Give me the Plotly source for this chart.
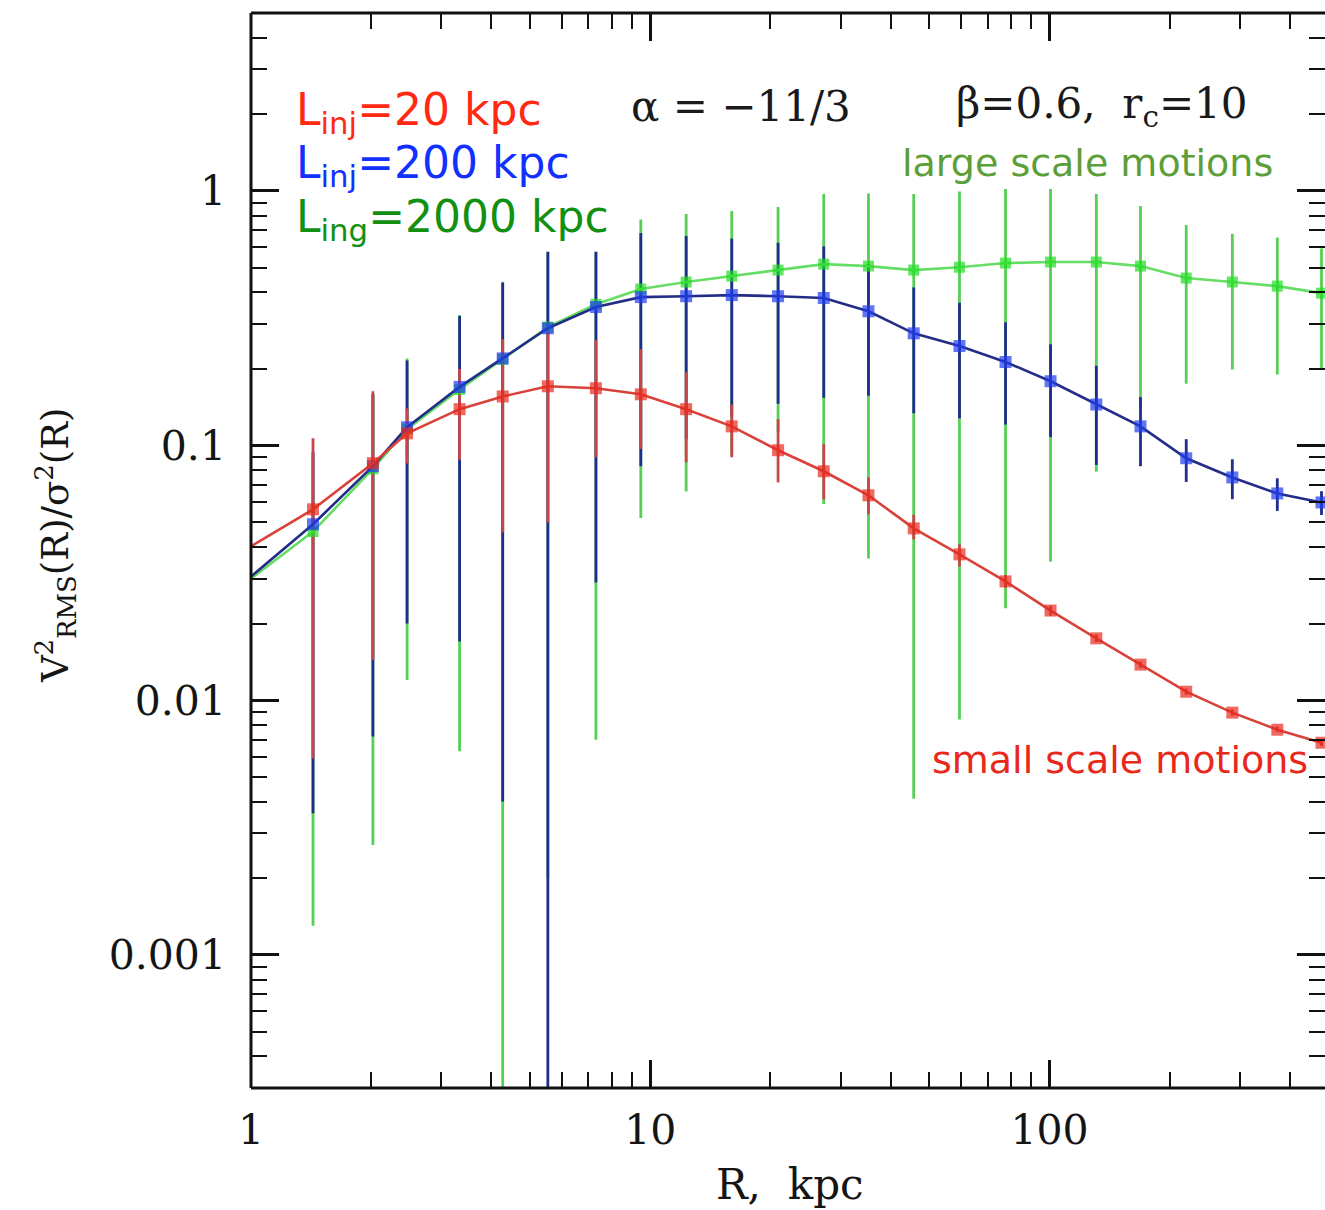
import numpy as np
import plotly.graph_objects as go

# Projected radius of each annulus, kpc
R_kpc = [1.0, 1.43, 2.02, 2.46, 3.33, 4.27, 5.54, 7.31, 9.47, 12.3, 16.0, 20.9,
         27.2, 35.2, 45.7, 59.5, 77.6, 100.6, 131.0, 169.0, 220.0, 287.0, 372.0, 480.0]

# L_inj = 20 kpc : mean V^2_RMS / sigma^2 and the upper / lower ends of its scatter
red_mean = [0.0402, 0.0562, 0.0853, 0.1117, 0.139, 0.156, 0.171, 0.168, 0.159, 0.139, 0.119, 0.0959,
            0.0793, 0.0638, 0.0473, 0.0374, 0.0293, 0.0225, 0.0175, 0.0138, 0.0108, 0.00894, 0.00766, 0.00681]
red_hi = [0.0402, 0.1068, 0.1635, 0.140, 0.200, 0.262, 0.287, 0.260, 0.239, 0.194, 0.145, 0.127,
          0.1012, 0.075, 0.0535, 0.041, 0.031, 0.0235, 0.0181, 0.0142, 0.0111, 0.0092, 0.0079, 0.0070]
red_lo = [0.0402, 0.0059, 0.0144, 0.085, 0.088, 0.0456, 0.050, 0.090, 0.097, 0.086, 0.090, 0.0717,
          0.0615, 0.0537, 0.0428, 0.0335, 0.0277, 0.0215, 0.0169, 0.0134, 0.0105, 0.0087, 0.0075, 0.0066]

# L_inj = 200 kpc
blue_mean = [0.0306, 0.0491, 0.083, 0.118, 0.170, 0.220, 0.289, 0.350, 0.383, 0.386, 0.390, 0.386,
             0.380, 0.337, 0.276, 0.246, 0.213, 0.179, 0.145, 0.119, 0.0892, 0.0750, 0.0649, 0.0598]
blue_hi = [0.0306, 0.0946, 0.159, 0.216, 0.323, 0.436, 0.581, 0.671, 0.683, 0.666, 0.650, 0.626,
           0.606, 0.517, 0.418, 0.364, 0.305, 0.250, 0.206, 0.155, 0.106, 0.0884, 0.0744, 0.0662]
blue_lo = [0.0306, 0.0036, 0.0072, 0.020, 0.017, 0.004, 0.0, 0.029, 0.083, 0.106, 0.130, 0.146,
           0.154, 0.157, 0.134, 0.128, 0.121, 0.108, 0.084, 0.083, 0.072, 0.0616, 0.0554, 0.0534]

# L_inj = 2000 kpc
green_mean = [0.030, 0.046, 0.081, 0.116, 0.166, 0.218, 0.292, 0.359, 0.412, 0.439, 0.463, 0.489,
              0.516, 0.507, 0.489, 0.502, 0.521, 0.526, 0.526, 0.507, 0.455, 0.439, 0.423, 0.397]
green_hi = [0.030, 0.0907, 0.159, 0.220, 0.326, 0.440, 0.582, 0.711, 0.772, 0.812, 0.834, 0.865,
            0.973, 0.978, 0.974, 0.996, 1.019, 1.017, 0.973, 0.873, 0.735, 0.679, 0.656, 0.595]
green_lo = [0.030, 0.0013, 0.0027, 0.012, 0.0063, 0.0, 0.002, 0.0070, 0.052, 0.066, 0.092, 0.113,
            0.059, 0.036, 0.0041, 0.0084, 0.023, 0.035, 0.079, 0.141, 0.175, 0.199, 0.190, 0.199]

x_major = [1, 10, 100]
x_major_text = ["1", "10", "100"]
y_major = [0.001, 0.01, 0.1, 1]
y_major_text = ["0.001", "0.01", "0.1", "1"]

series = [
    # name, mean, hi, lo, bar colour, line colour, marker colour, marker size
    ("L_inj=2000 kpc", green_mean, green_hi, green_lo, "#55d055", "#66de66", "#22dd22", 11),
    ("L_inj=200 kpc", blue_mean, blue_hi, blue_lo, "#1f2d8e", "#232d88", "#1f3cf0", 12),
    ("L_inj=20 kpc", red_mean, red_hi, red_lo, "#c8464a", "#d8423a", "#e8291c", 12),
]

fig = go.Figure()

# scatter bars first so that every curve sits on top of them
for name, mean, hi, lo, bar_c, line_c, mark_c, msize in series:
    m = np.array(mean)
    fig.add_trace(go.Scatter(
        x=R_kpc, y=mean, mode="markers", showlegend=False, hoverinfo="skip",
        marker=dict(size=0, color=bar_c, opacity=0),
        error_y=dict(type="data", symmetric=False,
                     array=(np.array(hi) - m).tolist(),
                     arrayminus=(m - np.array(lo)).tolist(),
                     color=bar_c, thickness=2.8, width=0),
    ))

for name, mean, hi, lo, bar_c, line_c, mark_c, msize in series:
    sizes = [0] + [msize] * (len(mean) - 1)
    fig.add_trace(go.Scatter(
        x=R_kpc, y=mean, mode="lines+markers", name=name, showlegend=False,
        line=dict(color=line_c, width=2.6),
        marker=dict(symbol="square", size=sizes, color=mark_c, line=dict(width=0)),
    ))

# minor tick positions, 2..9 in every decade
x_minor = [m * 10 ** d for d in range(0, 3) for m in range(2, 10)]
y_minor = [m * 10 ** d for d in range(-4, 1) for m in range(2, 10)]

tick_font = dict(family="DejaVu Serif", size=41, color="#151515")

fig.update_xaxes(
    type="log", range=[0, 2.69], showgrid=False, zeroline=False,
    showline=False, mirror="ticks",
    tickmode="array", tickvals=x_major, ticktext=x_major_text,
    ticks="inside", ticklen=28, tickwidth=2.5, tickcolor="#111",
    tickfont=tick_font, ticklabelstandoff=14,
    minor=dict(tickmode="array", tickvals=x_minor, ticks="inside",
               ticklen=16, tickwidth=2.2, tickcolor="#111", showgrid=False),
)
fig.update_yaxes(
    type="log", range=[np.log10(3e-4), np.log10(5)], showgrid=False, zeroline=False,
    showline=False, mirror="ticks",
    tickmode="array", tickvals=y_major, ticktext=y_major_text,
    ticks="inside", ticklen=28, tickwidth=2.5, tickcolor="#111",
    tickfont=tick_font, ticklabelstandoff=24,
    minor=dict(tickmode="array", tickvals=y_minor, ticks="inside",
               ticklen=16, tickwidth=2.2, tickcolor="#111", showgrid=False),
)

frame = dict(type="line", xref="paper", yref="paper", line=dict(color="#111", width=3), layer="above")
shapes = [
    dict(frame, x0=0, x1=0, y0=0, y1=1),
    dict(frame, x0=0, x1=1.01, y0=0, y1=0),
    dict(frame, x0=0, x1=1.01, y0=1, y1=1),
    # white panel behind the injection-scale labels
    dict(type="rect", xref="paper", yref="paper", x0=0.029, x1=0.332, y0=0.778, y1=0.942,
         fillcolor="white", line=dict(width=0), layer="above"),
]

label_font = "DejaVu Sans"
annotations = [
    dict(text="L<sub>inj</sub>=20 kpc", x=0.040, y=0.907, font=dict(family=label_font, size=44, color="#ff2a12")),
    dict(text="L<sub>inj</sub>=200 kpc", x=0.040, y=0.858, font=dict(family=label_font, size=44, color="#1230ff")),
    dict(text="L<sub>ing</sub>=2000 kpc", x=0.040, y=0.808, font=dict(family=label_font, size=44, color="#129012")),
]
for a in annotations:
    a.update(xref="paper", yref="paper", xanchor="left", yanchor="middle", showarrow=False)

serif_big = dict(family="DejaVu Serif", size=42, color="#1a1a1a")
annotations += [
    dict(text="α = −11/3", x=0.352, y=0.913, xanchor="left", yanchor="middle", font=serif_big),
    dict(text="β=0.6,  r<sub>c</sub>=10", x=0.655, y=0.913, xanchor="left", yanchor="middle", font=serif_big),
    dict(text="large scale motions", x=0.9535, y=0.8605, xanchor="right", yanchor="middle",
         font=dict(family=label_font, size=38, color="#5c9e38")),
    dict(text="small scale motions", x=0.986, y=0.305, xanchor="right", yanchor="middle",
         font=dict(family=label_font, size=38, color="#e8281a")),
    dict(text="R,  kpc", x=0.502, y=-0.090, xanchor="center", yanchor="middle",
         font=dict(family="DejaVu Serif", size=42, color="#151515")),
    dict(text="V<sup>2</sup><sub>RMS</sub>(R)/σ<sup>2</sup>(R)", x=-0.1825, y=0.505,
         xanchor="center", yanchor="middle", textangle=-90,
         font=dict(family="DejaVu Serif", size=37, color="#151515")),
]
for a in annotations:
    a.setdefault("xref", "paper")
    a.setdefault("yref", "paper")
    a.setdefault("showarrow", False)

fig.update_layout(
    width=1325, height=1210,
    margin=dict(l=251, r=0, t=13, b=122),
    paper_bgcolor="white", plot_bgcolor="white",
    shapes=shapes, annotations=annotations,
    showlegend=False,
)

fig.write_html("out.html")
